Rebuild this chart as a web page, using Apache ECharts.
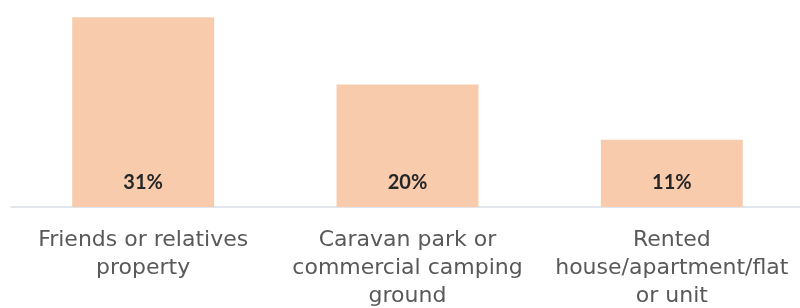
<!DOCTYPE html>
<html>
<head>
    <meta charset="utf-8" />
    <script src="https://cdn.jsdelivr.net/npm/echarts@6/dist/echarts.min.js"></script>
</head>
<body style="margin:0">
    <div id="main" style="width: 800px; height:308px;"></div>
    <script type="text/javascript">
        var categories = ['Friends or relatives\nproperty', 'Caravan park or\ncommercial camping\nground', 'Rented\nhouse/apartment/flat\nor unit'];
        var values = [31, 20, 11];

        var myChart = echarts.init(document.getElementById('main'));

        var option = {
            animation: false,
            grid: {
                top: 0,
                bottom: 101,
                left: 11,
                right: -4,
                outerBoundsMode: 'none'
            },
            xAxis: {
                type: 'category',
                data: categories,
                axisLine: {
                    show: true,
                    lineStyle: { color: '#D9DEE6', width: 1.5 }
                },
                axisTick: { show: false },
                axisLabel: {
                    interval: 0,
                    margin: 19,
                    color: '#595959',
                    fontFamily: '"DejaVu Sans", sans-serif',
                    fontSize: 22,
                    lineHeight: 28
                }
            },
            yAxis: {
                type: 'value',
                min: 0,
                max: 33.8,
                show: false
            },
            series: [
                {
                    type: 'bar',
                    data: values,
                    barWidth: '53.7%',
                    itemStyle: { color: '#F8CBAD' },
                    label: {
                        show: true,
                        position: 'insideBottom',
                        distance: 14,
                        formatter: '{c}%',
                        color: '#262626',
                        fontWeight: 'bold',
                        fontSize: 20,
                        fontFamily: 'Lato'
                    }
                }
            ]
        };

        myChart.setOption(option);
    </script>
</body>
</html>
